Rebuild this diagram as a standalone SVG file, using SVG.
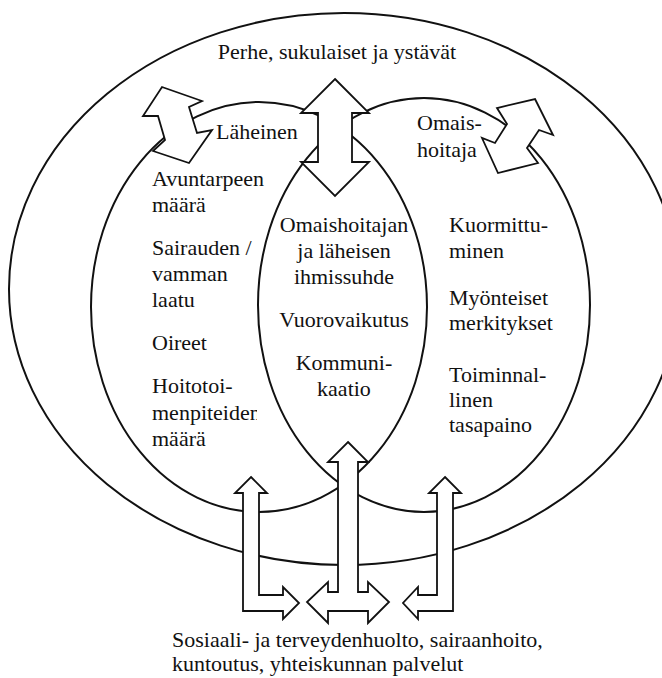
<svg xmlns="http://www.w3.org/2000/svg" width="662" height="678" viewBox="0 0 662 678">
<style>
  .ring { fill: none; stroke: #111; stroke-width: 2; }
  .arrow { fill: #fff; stroke: #111; stroke-width: 1.8; stroke-linejoin: miter; }
  .t { font-family: 'Liberation Serif', 'DejaVu Serif', serif; font-size: 22px; fill: #111; }
  .mid { text-anchor: middle; }
</style>
<defs>
  <clipPath id="clipMen"><rect x="140" y="400" width="117" height="30"/></clipPath>
</defs>
<rect width="662" height="678" fill="#fff"/>

<g id="node-family">
  <ellipse class="ring" cx="344" cy="289" rx="335" ry="276"/>
  <text class="t mid" x="337" y="59">Perhe, sukulaiset ja ystävät</text>
</g>

<g id="node-laheinen">
  <ellipse class="ring" cx="259" cy="307" rx="168" ry="205"/>
  <text class="t" x="216" y="139">Läheinen</text>
  <text class="t" x="152" y="186">Avuntarpeen</text>
  <text class="t" x="152" y="212">määrä</text>
  <text class="t" x="152" y="255">Sairauden /</text>
  <text class="t" x="152" y="281">vamman</text>
  <text class="t" x="152" y="307">laatu</text>
  <text class="t" x="152" y="350">Oireet</text>
  <text class="t" x="152" y="393">Hoitotoi-</text>
  <text class="t" x="152" y="420" clip-path="url(#clipMen)">menpiteiden</text>
  <text class="t" x="152" y="446">määrä</text>
</g>

<g id="node-omaishoitaja">
  <ellipse class="ring" cx="424" cy="305" rx="166" ry="207"/>
  <text class="t" x="417" y="130">Omais-</text>
  <text class="t" x="417" y="157">hoitaja</text>
  <text class="t" x="449" y="232">Kuormittu-</text>
  <text class="t" x="449" y="258">minen</text>
  <text class="t" x="449" y="305">Myönteiset</text>
  <text class="t" x="449" y="330">merkitykset</text>
  <text class="t" x="449" y="382">Toiminnal-</text>
  <text class="t" x="449" y="407">linen</text>
  <text class="t" x="449" y="432">tasapaino</text>
</g>

<g id="node-relationship">
  <text class="t mid" x="344" y="232">Omaishoitajan</text>
  <text class="t mid" x="344" y="258">ja läheisen</text>
  <text class="t mid" x="344" y="284">ihmissuhde</text>
  <text class="t mid" x="344" y="327">Vuorovaikutus</text>
  <text class="t mid" x="344" y="370">Kommuni-</text>
  <text class="t mid" x="344" y="396">kaatio</text>
</g>

<g id="node-services">
  <text class="t" x="172" y="647">Sosiaali- ja terveydenhuolto, sairaanhoito,</text>
  <text class="t" x="172" y="671">kuntoutus, yhteiskunnan palvelut</text>
</g>

<g id="connectors">
  <polygon class="arrow" points="162,87 202,101 189,107 197,133 212,130 189,163 153,151 165,140 158,116 143,116"/>
  <polygon class="arrow" points="535,99 553,135 539,130 527,148 538,163 498,173 482,138 495,143 507,124 497,108"/>
  <polygon class="arrow" points="335,79 369,113 352,113 352,162 369,162 335,196 301,162 318,162 318,113 301,113"/>
  <polygon class="arrow" points="348,442 368,462 358,462 358,592 368,592 368,582 389,602 368,623 368,611 328,611 328,623 307,602 328,582 328,592 338,592 338,462 328,462"/>
  <polygon class="arrow" points="251,477 267,493 259,493 259,595 283,595 283,587 299,603 283,619 283,611 243,611 243,493 235,493"/>
  <polygon class="arrow" points="445,477 461,493 453,493 453,611 418,611 418,619 403,603 418,587 418,595 437,595 437,493 429,493"/>
</g>
</svg>
